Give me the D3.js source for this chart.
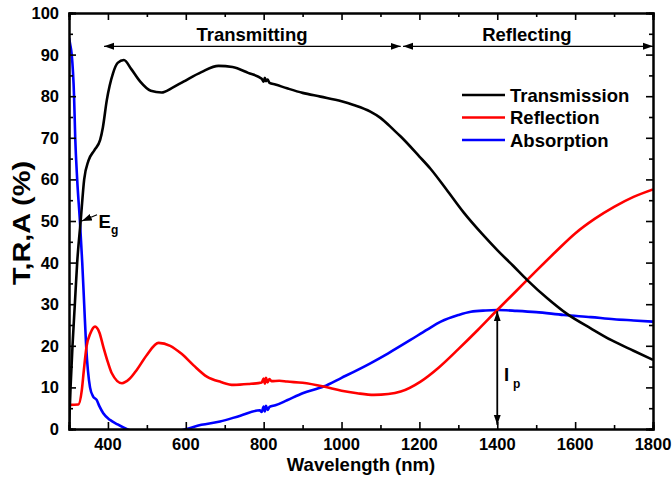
<!DOCTYPE html>
<html>
<head>
<meta charset="utf-8">
<script src="https://cdn.jsdelivr.net/npm/d3@7"></script>
<style>
  body { margin: 0; background: #fff; }
  text { font-family: "Liberation Sans", Arial, sans-serif; font-weight: bold; }
</style>
</head>
<body>
<div id="chart"></div>
<script>
// wavelength (nm) / percent pairs
var transWl = [300, 304, 309, 315, 321, 330, 339, 350, 365, 380, 387, 397, 413, 425, 441, 460, 483, 510, 538, 565, 594, 640, 684, 720, 760, 795, 800, 803, 806, 810, 815, 830, 860, 900, 946, 1000, 1031, 1074, 1100, 1134, 1152, 1200, 1229, 1270, 1314, 1360, 1400, 1440, 1477, 1530, 1580, 1640, 1692, 1750, 1800];
var transVal = [0, 10, 20, 30, 40, 50, 60, 64.5, 67, 69.5, 72.5, 79, 85.5, 88, 88.7, 86.5, 83.5, 81.3, 80.9, 82, 83.5, 85.8, 87.3, 87, 85.6, 84.2, 83.5, 84.4, 83.6, 84, 83.2, 82.8, 81.9, 80.8, 79.9, 78.8, 77.9, 76.3, 74.8, 71.9, 70.3, 65.5, 62.5, 57.5, 52, 47, 43, 39.3, 35.8, 31.3, 27.6, 24.2, 21.4, 18.8, 16.6];

var reflWl = [300, 324, 333, 338, 345, 355, 367, 378, 388, 400, 410, 436, 455, 474, 500, 530, 560, 590, 620, 654, 690, 723, 760, 795, 800, 803, 806, 810, 815, 820, 840, 860, 900, 954, 1000, 1040, 1083, 1120, 1152, 1203, 1250, 1300, 1350, 1400, 1450, 1500, 1550, 1600, 1650, 1700, 1750, 1800];
var reflVal = [5.8, 5.9, 9.4, 14, 19.8, 23, 24.6, 23.2, 19.8, 16, 13.4, 11, 12, 14.2, 17.8, 20.7, 20.0, 18.0, 15.3, 12.6, 11.3, 10.6, 10.8, 11.2, 12.1, 10.9, 12.3, 11.2, 12, 11.5, 11.6, 11.4, 11.1, 10.2, 9.2, 8.6, 8.2, 8.4, 9, 11.4, 14.8, 19.2, 23.8, 28.6, 33.3, 38, 42.6, 47, 50.5, 53.4, 55.8, 57.6];

var absWl = [300, 303, 307, 313, 316, 321, 328, 334, 339, 344, 354, 362, 371, 378, 388, 405, 425, 448, 480, 520, 560, 601, 640, 688, 740, 790, 795, 800, 803, 806, 810, 815, 830, 860, 900, 954, 1000, 1074, 1120, 1177, 1220, 1255, 1300, 1332, 1370, 1400, 1450, 1500, 1571, 1640, 1700, 1750, 1800];
var absVal = [94, 92.5, 90, 80, 70, 60, 50, 40, 30, 20, 10, 7.8, 7, 5.5, 3.8, 2.2, 1.1, 0, -1, -1, -1, 0, 1, 1.8, 3.2, 4.5, 4.1, 5.4, 4.2, 5.6, 4.6, 5.3, 5.7, 6.9, 8.6, 10.2, 12.3, 15.8, 18.2, 21.4, 23.9, 25.8, 27.4, 28.2, 28.5, 28.6, 28.4, 28.1, 27.4, 26.9, 26.4, 26.1, 25.8];

var xTicks = [400, 600, 800, 1000, 1200, 1400, 1600, 1800];
var yTicks = [0, 10, 20, 30, 40, 50, 60, 70, 80, 90, 100];
var seriesNames = ['Transmission', 'Reflection', 'Absorption'];
var seriesColors = ['#000000', '#ff0000', '#0000ff'];

var width = 672, height = 480;
var margin = {left: 69, right: 19, top: 13, bottom: 51};

var svg = d3.select('#chart').append('svg')
  .attr('width', width)
  .attr('height', height);

var x = d3.scaleLinear().domain([300, 1800]).range([margin.left, width - margin.right]);
var y = d3.scaleLinear().domain([0, 100]).range([height - margin.bottom, margin.top]);

svg.append('clipPath').attr('id', 'plotclip')
  .append('rect')
  .attr('x', x(300)).attr('y', y(100))
  .attr('width', x(1800) - x(300)).attr('height', y(0) - y(100));

var line = d3.line()
  .x(d => x(d[0]))
  .y(d => y(d[1]))
  .curve(d3.curveMonotoneX);

var series = [
  d3.zip(transWl, transVal),
  d3.zip(reflWl, reflVal),
  d3.zip(absWl, absVal)
];

var plot = svg.append('g').attr('clip-path', 'url(#plotclip)');
// draw blue, red, then black on top like the original
[2, 1, 0].forEach(i => {
  plot.append('path')
    .attr('d', line(series[i]))
    .attr('fill', 'none')
    .attr('stroke', seriesColors[i])
    .attr('stroke-width', 2.6)
    .attr('stroke-linejoin', 'round');
});

// axes with inward ticks on all four sides
var minorX = d3.range(300, 1801, 100).filter(v => xTicks.indexOf(v) < 0);
var minorY = d3.range(5, 100, 10);

function frameAxis(axis, ticks, size) {
  return axis.tickValues(ticks).tickSize(size).tickFormat('');
}

svg.append('g').attr('transform', `translate(0,${y(0)})`)
  .call(frameAxis(d3.axisTop(x), xTicks, 7));
svg.append('g').attr('transform', `translate(0,${y(0)})`)
  .call(frameAxis(d3.axisTop(x), minorX, 4));
svg.append('g').attr('transform', `translate(0,${y(100)})`)
  .call(frameAxis(d3.axisBottom(x), xTicks, 7));
svg.append('g').attr('transform', `translate(0,${y(100)})`)
  .call(frameAxis(d3.axisBottom(x), minorX, 4));
svg.append('g').attr('transform', `translate(${x(300)},0)`)
  .call(frameAxis(d3.axisRight(y), yTicks, 7));
svg.append('g').attr('transform', `translate(${x(300)},0)`)
  .call(frameAxis(d3.axisRight(y), minorY, 4));
svg.append('g').attr('transform', `translate(${x(1800)},0)`)
  .call(frameAxis(d3.axisLeft(y), yTicks, 7));
svg.append('g').attr('transform', `translate(${x(1800)},0)`)
  .call(frameAxis(d3.axisLeft(y), minorY, 4));

svg.selectAll('.domain').attr('stroke', '#000').attr('stroke-width', 2);
svg.selectAll('.tick line').attr('stroke', '#000').attr('stroke-width', 1.6);

// tick labels
svg.append('g').selectAll('text')
  .data(xTicks).enter().append('text')
  .attr('x', d => x(d))
  .attr('y', y(0) + 21)
  .attr('text-anchor', 'middle')
  .attr('font-size', 16.5)
  .text(d => d);

svg.append('g').selectAll('text')
  .data(yTicks).enter().append('text')
  .attr('x', x(300) - 10)
  .attr('y', d => y(d) + 6)
  .attr('text-anchor', 'end')
  .attr('font-size', 16.5)
  .text(d => d);

svg.append('text')
  .attr('x', (x(300) + x(1800)) / 2)
  .attr('y', y(0) + 42)
  .attr('text-anchor', 'middle')
  .attr('font-size', 18.5)
  .text('Wavelength (nm)');

svg.append('text')
  .attr('transform', `translate(30,${y(50) + 2}) rotate(-90)`)
  .attr('text-anchor', 'middle')
  .attr('font-size', 23)
  .attr('textLength', 124)
  .attr('lengthAdjust', 'spacingAndGlyphs')
  .text('T,R,A (%)');

// arrow markers
var defs = svg.append('defs');
defs.append('marker')
  .attr('id', 'head')
  .attr('viewBox', '0 0 10 10')
  .attr('refX', 10).attr('refY', 5)
  .attr('markerWidth', 10).attr('markerHeight', 10)
  .attr('markerUnits', 'userSpaceOnUse')
  .attr('orient', 'auto-start-reverse')
  .append('path').attr('d', 'M0,1.5 L10,5 L0,8.5 Z').attr('fill', '#000');

function arrow(x1, y1, x2, y2, both, w) {
  var a = svg.append('line')
    .attr('x1', x1).attr('y1', y1).attr('x2', x2).attr('y2', y2)
    .attr('stroke', '#000').attr('stroke-width', w || 1.2)
    .attr('marker-end', 'url(#head)');
  if (both) a.attr('marker-start', 'url(#head)');
}

// region arrows
arrow(x(390), y(92), x(1152), y(92), true);
arrow(x(1158), y(92), x(1800), y(92), true);
svg.append('text').attr('x', x(770)).attr('y', y(92) - 5)
  .attr('text-anchor', 'middle').attr('font-size', 18.5).text('Transmitting');
svg.append('text').attr('x', x(1476)).attr('y', y(92) - 5)
  .attr('text-anchor', 'middle').attr('font-size', 18.5).text('Reflecting');

// Eg marker
arrow(x(372), y(51.5), x(333), y(50), false);
var eg = svg.append('text').attr('x', x(376)).attr('y', y(50) + 7).attr('font-size', 18.5);
eg.append('tspan').text('E');
eg.append('tspan').attr('dy', 6).attr('font-size', 12).text('g');

// Ip marker
arrow(x(1400), y(1), x(1400), y(28.3), true, 1.8);
var ip = svg.append('text').attr('x', x(1417)).attr('y', y(11.5)).attr('font-size', 18.5);
ip.append('tspan').text('I');
ip.append('tspan').attr('dx', 4).attr('dy', 7).attr('font-size', 12).text('p');

// legend
var legend = svg.append('g').selectAll('g')
  .data(seriesNames).enter().append('g')
  .attr('transform', (d, i) => `translate(462,${95 + i * 22.5})`);
legend.append('line')
  .attr('x1', 0).attr('x2', 43)
  .attr('stroke', (d, i) => seriesColors[i])
  .attr('stroke-width', 2.6);
legend.append('text')
  .attr('x', 48).attr('y', 6.5)
  .attr('font-size', 18.5)
  .text(d => d);
</script>
</body>
</html>
